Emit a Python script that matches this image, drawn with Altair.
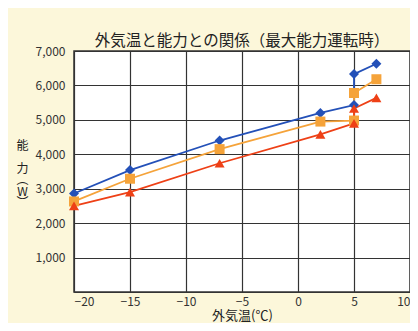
import altair as alt
import pandas as pd

series = ["系列1", "系列2", "系列3"]
temps = [-20, -15, -7, 2, 5, 5, 7]
blue_vals = [2860, 3540, 4400, 5200, 5430, 6330, 6630]
orange_vals = [2630, 3290, 4150, 4950, 4980, 5780, 6180]
red_vals = [2500, 2900, 3740, 4580, 4900, 5330, 5640]
colors = ["#2350B8", "#F5A33A", "#EE4016"]
shapes = ["diamond", "square", "triangle-up"]
x_ticks = [-20, -15, -10, -5, 0, 5, 10]
y_ticks = [0, 1000, 2000, 3000, 4000, 5000, 6000, 7000]

rows = []
for s, vals in zip(series, [blue_vals, orange_vals, red_vals]):
    for i, (t, v) in enumerate(zip(temps, vals)):
        rows.append({"系列": s, "外気温": t, "能力": v, "順": i})
df = pd.DataFrame(rows)

FONT = "Noto Sans CJK JP"

color = alt.Color("系列:N", scale=alt.Scale(domain=series, range=colors), legend=None)
shape = alt.Shape("系列:N", scale=alt.Scale(domain=series, range=shapes), legend=None)

x = alt.X(
    "外気温:Q",
    scale=alt.Scale(domain=[-20, 10], nice=False, zero=False),
    axis=alt.Axis(
        values=x_ticks, title="外気温(℃)", ticks=False, domain=False,
        labelPadding=4, labelFontSize=12, labelColor="#333", labelFont=FONT,
        titleFont=FONT, titleFontSize=13, titleFontWeight="normal", titleColor="#222",
        titleY=23, titleBaseline="middle",
        gridColor="#333", gridWidth=1.2, gridOpacity=1,
    ),
)
y = alt.Y(
    "能力:Q",
    scale=alt.Scale(domain=[0, 7000], nice=False),
    axis=alt.Axis(
        values=y_ticks, format=",d", ticks=False, domain=False,
        labelPadding=9, labelFontSize=12, labelColor="#333", labelFont=FONT,
        labelExpr="datum.value == 0 ? '' : datum.label",
        title=["能", "\u2800", "力", "︵", "W", "︶"], titleAngle=0, titleX=-52, titleY=94,
        titleAlign="center", titleBaseline="middle", titleLineHeight=11.5,
        titleFont=FONT, titleFontSize=12, titleFontWeight="normal", titleColor="#222",
        gridColor="#333", gridWidth=1.2, gridOpacity=1,
    ),
)

base = alt.Chart(df).encode(x=x, y=y, color=color, order="順:Q")
lines = base.mark_line(strokeWidth=1.8)
points = base.mark_point(filled=True, size=100, opacity=1).encode(shape=shape)

chart = (lines + points).properties(
    width=336,
    height=241,
    background="#FCF7DA",
    padding={"left": 66, "top": 43, "right": 0, "bottom": 31},
    autosize="none",
    title=alt.TitleParams(
        "外気温と能力との関係（最大能力運転時）", font=FONT, fontSize=15.5,
        fontWeight="normal", color="#222", anchor="middle", frame="group", offset=-4,
    ),
).configure_view(fill="white", stroke="#333", strokeWidth=1.5)

chart.save("out.html", embed_options={"renderer": "svg", "actions": False})
